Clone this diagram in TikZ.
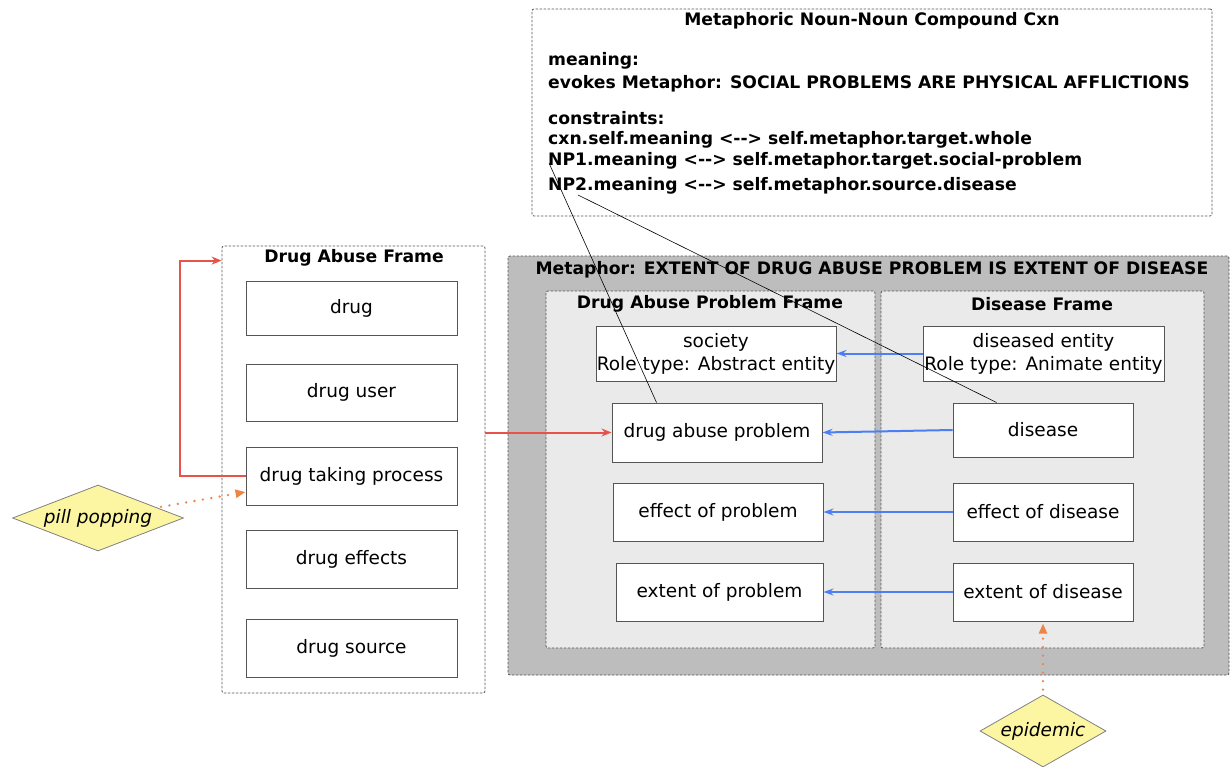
\documentclass[tikz,border=0pt]{standalone}
\usepackage{fontspec}
\setmainfont{DejaVu Sans}
\usetikzlibrary{arrows.meta,shapes.geometric}

\definecolor{redline}{HTML}{E8524B}
\definecolor{blueline}{HTML}{4D7FF2}
\definecolor{orangeline}{HTML}{EE8445}
\definecolor{dmdfill}{HTML}{FCF6A2}
\definecolor{outergray}{HTML}{BDBDBD}
\definecolor{innergray}{HTML}{EAEAEA}
\definecolor{edgegray}{HTML}{555555}

% double hyphen without the en-dash ligature
\newcommand{\dblhy}{-\kern0pt-}

\tikzset{
  frame/.style={draw=edgegray, dash pattern=on 2.5pt off 1.5pt, line width=0.8pt,
    rounded corners=2pt, inner sep=0pt},
  role/.style={draw=edgegray, fill=white, line width=1pt, inner sep=0pt,
    align=center, font=\fontsize{18.5}{23}\selectfont},
  ttl/.style={inner sep=0pt, font=\bfseries\fontsize{17.2}{21}\selectfont},
  cxnline/.style={inner sep=0pt, anchor=west, font=\bfseries\fontsize{17.2}{21}\selectfont},
  dmd/.style={shape=diamond, draw=gray, fill=dmdfill, line width=0.8pt, inner sep=1pt,
    font=\itshape\fontsize{18.5}{22}\selectfont},
  redarrow/.style={draw=redline, line width=2pt, -{Stealth[length=10pt,width=8pt]}},
  bluearrow/.style={draw=blueline, line width=2pt, -{Stealth[length=10pt,width=7pt]}},
  dotarrow/.style={draw=orangeline, line width=2.6pt, line cap=round,
    dash pattern=on 0pt off 8.5pt, -{Triangle[length=10pt,width=8pt]}},
  link/.style={draw=black, line width=0.6pt},
}

\begin{document}
\begin{tikzpicture}[x=1pt,y=-1pt]
\useasboundingbox (0,0) rectangle (1230,767);

% construction box
\node[frame, fill=white, minimum width=680pt, minimum height=207pt] (cxn) at (872,112.5) {};
\node[ttl] (cxnttl) at (872,21) {Metaphoric Noun-Noun Compound Cxn};
\node[cxnline] (mn) at (548,61) {meaning:};
\node[cxnline] (ev) at (548,84) {evokes Metaphor: SOCIAL PROBLEMS ARE PHYSICAL AFFLICTIONS};
\node[cxnline] (cs) at (548,118) {constraints:};
\node[cxnline] (c1) at (548,140) {cxn.self.meaning <\dblhy> self.metaphor.target.whole};
\node[cxnline] (np1) at (548,161) {NP1.meaning <\dblhy> self.metaphor.target.social-problem};
\node[cxnline] (np2) at (548,186) {NP2.meaning <\dblhy> self.metaphor.source.disease};

% source-side frame
\node[frame, fill=white, minimum width=263pt, minimum height=447pt] (daf) at (353.5,469.5) {};
\node[ttl] at (354,258) {Drug Abuse Frame};
\node[role, minimum width=211pt, minimum height=54pt] (drug) at (351.5,308) {drug};
\node[role, minimum width=211pt, minimum height=57pt] (duser) at (351.5,392.5) {drug user};
\node[role, minimum width=211pt, minimum height=58pt] (dtp) at (351.5,476) {drug taking process};
\node[role, minimum width=211pt, minimum height=58pt] (dfx) at (351.5,559) {drug effects};
\node[role, minimum width=211pt, minimum height=58pt] (dsrc) at (351.5,648) {drug source};

% metaphor box with its two frames
\node[frame, fill=outergray, minimum width=721pt, minimum height=419pt] (met) at (868.5,465.5) {};
\node[ttl] at (872,270) {Metaphor: EXTENT OF DRUG ABUSE PROBLEM IS EXTENT OF DISEASE};
\node[frame, fill=innergray, minimum width=329pt, minimum height=357pt] (dapf) at (710.5,469.5) {};
\node[ttl] at (710,304) {Drug Abuse Problem Frame};
\node[frame, fill=innergray, minimum width=323pt, minimum height=357pt] (disf) at (1042.5,469.5) {};
\node[ttl] at (1042,304) {Disease Frame};

\node[role, minimum width=240pt, minimum height=55pt] (soc) at (716,353.5) {society\\Role type: Abstract entity};
\node[role, minimum width=241pt, minimum height=55pt] (dent) at (1043.5,353.5) {diseased entity\\Role type: Animate entity};
\node[role, minimum width=210pt, minimum height=59pt] (dap) at (717,432.5) {drug abuse problem};
\node[role, minimum width=180pt, minimum height=54pt] (dis) at (1043,430) {disease};
\node[role, minimum width=210pt, minimum height=58pt] (eop) at (718,512) {effect of problem};
\node[role, minimum width=180pt, minimum height=58pt] (eod) at (1043,512) {effect of disease};
\node[role, minimum width=207pt, minimum height=58pt] (xop) at (719.5,592) {extent of problem};
\node[role, minimum width=180pt, minimum height=58pt] (xod) at (1043,592) {extent of disease};

% frame elements added by the diamonds
\node[dmd, aspect=2.6, minimum width=171pt, minimum height=66pt] (pill) at (98,518) {pill popping};
\node[dmd, aspect=1.74, minimum width=126pt, minimum height=72pt] (epi) at (1043,731) {epidemic};

% mappings
\draw[bluearrow] (dent.west) -- (soc.east);
\draw[bluearrow] (dis.west) -- (dap.east);
\draw[bluearrow] (eod.west) -- (eop.east);
\draw[bluearrow] (xod.west) -- (xop.east);

\draw[redarrow] (dap.west -| daf.east) -- (dap.west);
\draw[redarrow] (dtp.west) -- ++(-66,0) |- ([yshift=-15pt]daf.north west);

\coordinate (pilltip) at ([yshift=-16pt]dtp.west);
\draw[dotarrow, shorten <=4pt] (pill) -- (pilltip);
\draw[dotarrow, shorten <=5pt, shorten >=2pt] (epi.north) -- (xod.south);

% constraint links
\coordinate (np1pt) at ([xshift=1pt,yshift=-2pt]np1.west);
\coordinate (np2pt) at ([xshift=30pt,yshift=-9pt]np2.west);
\draw[link] (np1pt) -- ([xshift=45pt]dap.north west);
\draw[link] (np2pt) -- ([xshift=44pt]dis.north west);
\end{tikzpicture}
\end{document}
